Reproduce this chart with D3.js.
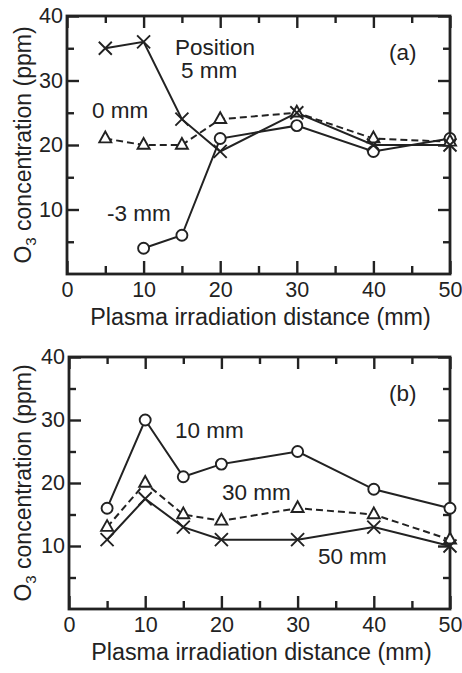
<!DOCTYPE html>
<html>
<head>
<meta charset="utf-8">
<script src="https://cdn.jsdelivr.net/npm/d3@7"></script>
<style>
  body { margin: 0; background: #fff; }
  svg text { font-family: "Liberation Sans", Arial, sans-serif; fill: #222; }
</style>
</head>
<body>
<div id="chart"></div>
<script>
// Data
const distA = [5, 10, 15, 20, 30, 40, 50];
const pos5mm = [35, 36, 24, 19, 25, 20, 20];
const pos0mm = [21, 20, 20, 24, 25, 21, 20.5];
const distMinus3 = [10, 15, 20, 30, 40, 50];
const posMinus3mm = [4, 6, 21, 23, 19, 21];

const distB = [5, 10, 15, 20, 30, 40, 50];
const gap10mm = [16, 30, 21, 23, 25, 19, 16];
const gap30mm = [13, 20, 15, 14, 16, 15, 11];
const gap50mm = [11, 17.5, 13, 11, 11, 13, 10];

const xMajor = [0, 10, 20, 30, 40, 50];
const xMinor = [5, 15, 25, 35, 45];
const yMajor = [10, 20, 30, 40];
const yMinor = [5, 15, 25, 35];

const width = 462, height = 673;

var svg = d3.select("#chart").append("svg")
    .attr("width", width)
    .attr("height", height);

function zip(xs, ys) {
    return xs.map(function(x, i) { return [x, ys[i]]; });
}

function drawPanel(box, series, notes) {
    var x = d3.scaleLinear().domain([0, 50]).range([box.left, box.right]);
    var y = d3.scaleLinear().domain([0, 40]).range([box.bottom, box.top]);
    var g = svg.append("g");

    // ticks, all pointing inward
    function addAxis(axis, transform, labels) {
        var a = g.append("g").attr("transform", transform).call(axis);
        a.select(".domain").remove();
        a.selectAll("line").attr("stroke", "#222").attr("stroke-width", 2.4);
        if (!labels) a.selectAll("text").remove();
        else a.selectAll("text").attr("font-size", 21.5).attr("fill", "#222");
        return a;
    }
    var bx = addAxis(d3.axisBottom(x).tickValues(xMajor).tickSize(-13).tickPadding(8).tickFormat(d3.format("d")),
        "translate(0," + box.bottom + ")", true);
    bx.selectAll("text").attr("dy", "0.72em");
    addAxis(d3.axisBottom(x).tickValues(xMinor).tickSize(-8), "translate(0," + box.bottom + ")", false);
    addAxis(d3.axisTop(x).tickValues(xMajor).tickSize(-12), "translate(0," + box.top + ")", false);
    addAxis(d3.axisTop(x).tickValues(xMinor).tickSize(-7), "translate(0," + box.top + ")", false);
    addAxis(d3.axisLeft(y).tickValues(yMajor).tickSize(-12).tickPadding(4), "translate(" + box.left + ",0)", true);
    addAxis(d3.axisLeft(y).tickValues(yMinor).tickSize(-7), "translate(" + box.left + ",0)", false);
    addAxis(d3.axisRight(y).tickValues(yMajor).tickSize(-12), "translate(" + box.right + ",0)", false);
    addAxis(d3.axisRight(y).tickValues(yMinor).tickSize(-7), "translate(" + box.right + ",0)", false);

    // frame
    g.append("rect")
        .attr("x", box.left).attr("y", box.top)
        .attr("width", box.right - box.left).attr("height", box.bottom - box.top)
        .attr("fill", "none").attr("stroke", "#222").attr("stroke-width", 2.8);

    var line = d3.line()
        .x(function(d) { return x(d[0]); })
        .y(function(d) { return y(d[1]); });

    series.forEach(function(s) {
        g.append("path")
            .attr("d", line(s.data))
            .attr("fill", "none")
            .attr("stroke", "#222")
            .attr("stroke-width", 2)
            .attr("stroke-dasharray", s.dashed ? "7,4" : null);
    });

    series.forEach(function(s) {
        var m = g.selectAll(null).data(s.data).enter().append("g")
            .attr("transform", function(d) { return "translate(" + x(d[0]) + "," + y(d[1]) + ")"; });
        if (s.marker === "circle") {
            m.append("circle").attr("r", 5.5)
                .attr("fill", "#fff").attr("stroke", "#222").attr("stroke-width", 1.9);
        } else if (s.marker === "triangle") {
            m.append("path").attr("d", "M0,-7L6,3.8L-6,3.8Z")
                .attr("fill", "#fff").attr("stroke", "#222").attr("stroke-width", 1.9);
        } else {
            m.append("path").attr("d", "M-6.5,-6.5L6.5,6.5M-6.5,6.5L6.5,-6.5")
                .attr("stroke", "#222").attr("stroke-width", 1.9);
        }
    });

    // axis titles
    g.append("text")
        .attr("x", (box.left + box.right) / 2 + 2)
        .attr("y", box.bottom + 51)
        .attr("text-anchor", "middle")
        .attr("font-size", 23.3)
        .text("Plasma irradiation distance (mm)");

    var yt = g.append("text")
        .attr("transform", "translate(31," + ((box.top + box.bottom) / 2) + ") rotate(-90)")
        .attr("text-anchor", "middle")
        .attr("font-size", 23);
    yt.append("tspan").text("O");
    yt.append("tspan").attr("font-size", 15).attr("dy", 5).text("3");
    yt.append("tspan").attr("dy", -5).text(" concentration (ppm)");

    notes.forEach(function(n) {
        g.append("text")
            .attr("x", n.x).attr("y", n.y)
            .attr("font-size", 22.5)
            .text(n.text);
    });
}

drawPanel({left: 67, right: 450, top: 16, bottom: 274}, [
    {data: zip(distMinus3, posMinus3mm), marker: "circle", dashed: false},
    {data: zip(distA, pos0mm), marker: "triangle", dashed: true},
    {data: zip(distA, pos5mm), marker: "cross", dashed: false}
], [
    {text: "Position", x: 175, y: 55},
    {text: "5 mm", x: 181, y: 78},
    {text: "0 mm", x: 92, y: 118},
    {text: "-3 mm", x: 107, y: 221},
    {text: "(a)", x: 389, y: 60}
]);

drawPanel({left: 69, right: 450, top: 357, bottom: 609}, [
    {data: zip(distB, gap10mm), marker: "circle", dashed: false},
    {data: zip(distB, gap30mm), marker: "triangle", dashed: true},
    {data: zip(distB, gap50mm), marker: "cross", dashed: false}
], [
    {text: "10 mm", x: 175, y: 438},
    {text: "30 mm", x: 222, y: 500},
    {text: "50 mm", x: 318, y: 564},
    {text: "(b)", x: 389, y: 401}
]);
</script>
</body>
</html>
